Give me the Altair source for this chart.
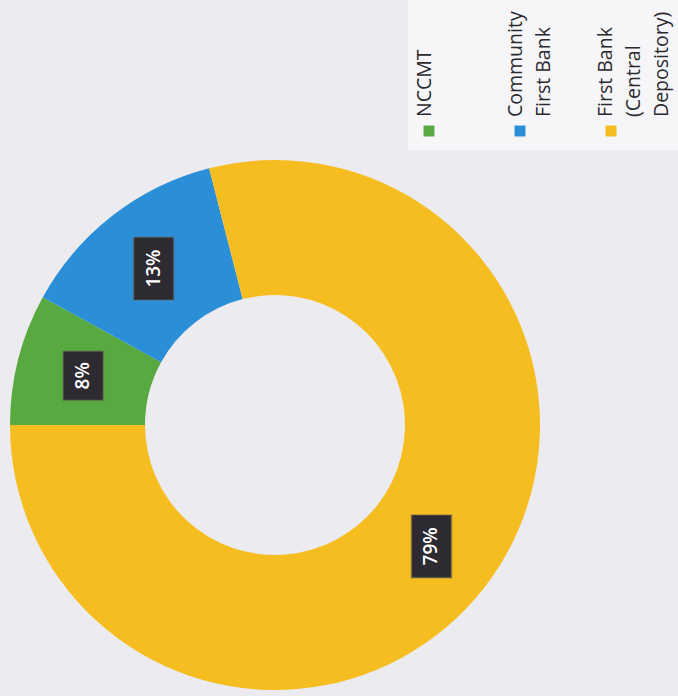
import math
import altair as alt
import pandas as pd

# ---- data ----
categories = ["NCCMT", "Community First Bank", "First Bank (Central Depository)"]
legend_labels = ["NCCMT", "Community\nFirst Bank", "First Bank\n(Central\nDepository)"]
values = [8, 13, 79]
colors = ["#58a93f", "#2b8fd7", "#f5bd20"]

df = pd.DataFrame({
    "category": categories,
    "legend_label": legend_labels,
    "value": values,
    "idx": list(range(len(categories))),
})

W, H = 678, 696
CX, CY = 275, 425
R_OUT, R_IN, R_LAB = 265, 130, 198
START = 3 * math.pi / 2

color_scale = alt.Scale(domain=categories, range=colors)
base = alt.Chart(df)

# light legend panel
panel = base.transform_filter("datum.idx == 0").mark_rect(color="#f6f6f9").encode(
    x=alt.value(408), x2=alt.value(W), y=alt.value(0), y2=alt.value(150)
)

donut = base.mark_arc(innerRadius=R_IN, outerRadius=R_OUT, x=CX, y=CY).encode(
    theta=alt.Theta("value:Q", stack=True,
                    scale=alt.Scale(range=[START, START + 2 * math.pi])),
    color=alt.Color("category:N", scale=color_scale, legend=None),
    order=alt.Order("idx:Q"),
)

pos = (
    base.transform_joinaggregate(total="sum(value)")
    .transform_window(cum="sum(value)", sort=[alt.SortField("idx")], frame=[None, 0])
    .transform_calculate(
        mid=f"{START} + 2*PI*(datum.cum - datum.value/2)/datum.total",
        pct="format(datum.value, 'd') + '%'",
    )
    .transform_calculate(
        px=f"{CX} + {R_LAB}*sin(datum.mid)",
        py=f"{CY} - {R_LAB}*cos(datum.mid)",
        hh="11 + 6.8*length(datum.pct)",
    )
    .transform_calculate(
        bx1="datum.px - 20", bx2="datum.px + 20",
        by1="datum.py - datum.hh", by2="datum.py + datum.hh",
    )
)

boxes = pos.mark_rect(color="#2d2a31", stroke="#6d6a5a", strokeOpacity=0.35, strokeWidth=2).encode(
    x=alt.X("bx1:Q", scale=None, axis=None),
    x2="bx2:Q",
    y=alt.Y("by1:Q", scale=None, axis=None),
    y2="by2:Q",
)

labels = pos.mark_text(angle=270, align="center", baseline="middle",
                       font="Open Sans", fontSize=19, fontWeight=600, color="white").encode(
    x=alt.X("px:Q", scale=None, axis=None),
    y=alt.Y("py:Q", scale=None, axis=None),
    text="pct:N",
)

leg = base.transform_calculate(
    sx="429 + 91*datum.idx",
    tx="416 + 90.5*datum.idx",
)

leg_sym = leg.mark_square(size=120, opacity=1).encode(
    x=alt.X("sx:Q", scale=None, axis=None),
    y=alt.value(131),
    color=alt.Color("category:N", scale=color_scale, legend=None),
)

leg_txt = leg.mark_text(angle=270, align="left", baseline="top", lineBreak="\n",
                        font="Open Sans", fontSize=19.5, lineHeight=28,
                        color="#2a2a2e").encode(
    x=alt.X("tx:Q", scale=None, axis=None),
    y=alt.value(117),
    text="legend_label:N",
)

chart = alt.layer(panel, donut, boxes, labels, leg_sym, leg_txt).properties(
    width=W, height=H, padding=0, autosize="none", background="#ebebf0"
).configure_view(stroke=None)

chart.save("out.html", embed_options={"renderer": "svg", "actions": False})
